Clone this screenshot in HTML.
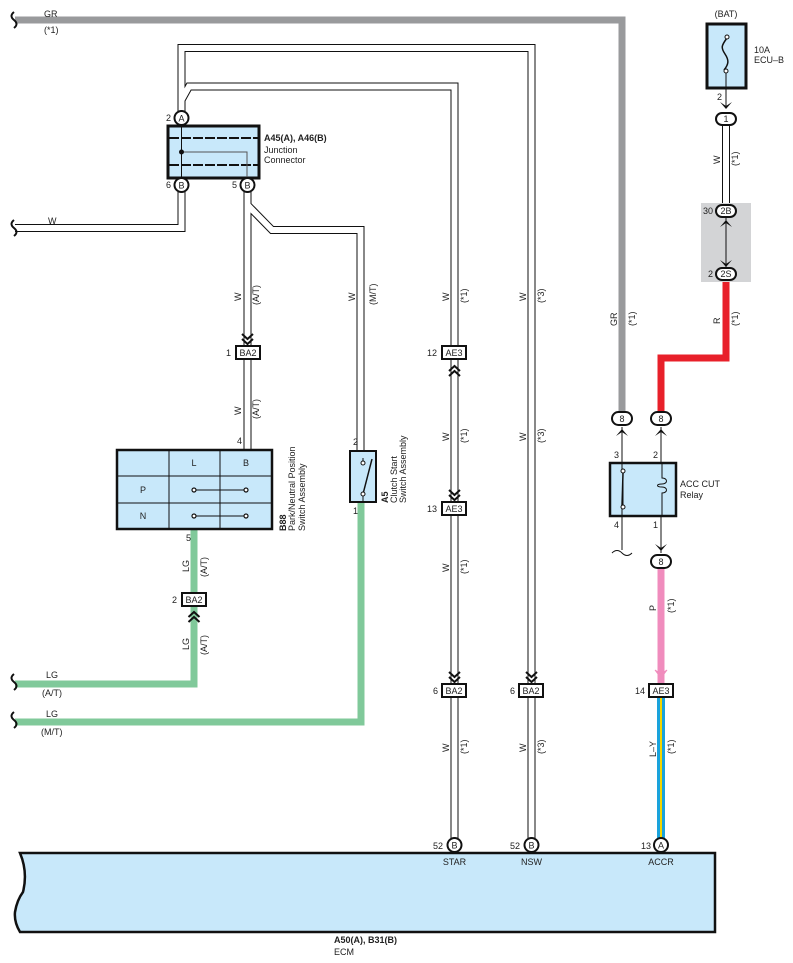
<!DOCTYPE html>
<html><head><meta charset="utf-8"><style>
html,body{margin:0;padding:0;background:#fff}
svg{display:block}
text{font-family:"Liberation Sans",sans-serif;font-size:9px;fill:#222}
.b{font-weight:bold}
.wo{fill:none;stroke:#111;stroke-width:8}
.wi{fill:none;stroke:#fff;stroke-width:6}
.ch{fill:none;stroke:#111;stroke-width:2}
</style></head><body>
<svg width="793" height="963" viewBox="0 0 793 963" xmlns="http://www.w3.org/2000/svg">
<!-- gray GR wire -->
<path d="M15,20 H622 V412" fill="none" stroke="#999a9c" stroke-width="7"/>
<path d="M14,12 q-5,4 0,8 q5,4 0,8" fill="none" stroke="#111" stroke-width="2"/>
<text x="44" y="17">GR</text><text x="44" y="33">(*1)</text>

<!-- white wires -->
<g>
<path class="wo" d="M181.5,112 V48 H531.5 V684"/>
<path class="wo" d="M181.5,100 L189,86.5 H454.5 V346"/>
<path class="wo" d="M454.5,360 V502"/>
<path class="wo" d="M454.5,516 V684"/>
<path class="wo" d="M454.5,697 V839"/>
<path class="wo" d="M531.5,697 V839"/>
<path class="wo" d="M181.5,191 V228 H15"/>
<path class="wo" d="M247.5,191 V347"/>
<path class="wo" d="M247.5,205 L272,230 H360.5 V450"/>
<path class="wo" d="M247.5,360 V450"/>
<path class="wo" d="M726,126 V204"/>
<path class="wi" d="M181.5,112 V48 H531.5 V684"/>
<path class="wi" d="M181.5,100 L189,86.5 H454.5 V346"/>
<path class="wi" d="M454.5,360 V502"/>
<path class="wi" d="M454.5,516 V684"/>
<path class="wi" d="M454.5,697 V839"/>
<path class="wi" d="M531.5,697 V839"/>
<path class="wi" d="M181.5,191 V228 H15"/>
<path class="wi" d="M247.5,191 V347"/>
<path class="wi" d="M247.5,205 L272,230 H360.5 V450"/>
<path class="wi" d="M247.5,360 V450"/>
<path class="wi" d="M726,126 V204"/>
</g>
<path d="M14,220 q-5,4 0,8 q5,4 0,8" fill="none" stroke="#111" stroke-width="2"/>
<text x="48" y="224">W</text>

<!-- green wires -->
<path d="M15,684 H194 V607" fill="none" stroke="#80c99a" stroke-width="7"/>
<path d="M194,593 V530" fill="none" stroke="#80c99a" stroke-width="7"/>
<path d="M15,722 H361 V502" fill="none" stroke="#80c99a" stroke-width="7"/>
<path d="M14,674 q-5,4 0,8 q5,4 0,8 M14,712 q-5,4 0,8 q5,4 0,8" fill="none" stroke="#111" stroke-width="2"/>
<text x="46" y="678">LG</text><text x="42" y="696">(A/T)</text>
<text x="46" y="717">LG</text><text x="41" y="735">(M/T)</text>

<!-- red wire -->
<path d="M726,282 V358 H661 V412" fill="none" stroke="#e8202a" stroke-width="7"/>
<!-- pink -->
<path d="M661,568 V683" fill="none" stroke="#f08cbd" stroke-width="7"/>
<!-- L-Y -->
<path d="M661,698 V839" fill="none" stroke="#1aa3dc" stroke-width="8"/>
<path d="M661,698 V839" fill="none" stroke="#f5d500" stroke-width="2"/>

<!-- junction connector -->
<rect x="168" y="126" width="91" height="52" fill="#c8e8fa" stroke="#111" stroke-width="3"/>
<path d="M169,138 H258 M169,165 H258" stroke="#111" stroke-width="2" stroke-dasharray="10,2"/>
<path d="M181.5,120 V178" stroke="#111" stroke-width="1"/>
<path d="M181.5,152 H247 V178" fill="none" stroke="#555" stroke-width="1"/>
<circle cx="181.5" cy="152" r="2.5" fill="#111"/>
<g fill="#fff" stroke="#111" stroke-width="2">
<circle cx="181.5" cy="118" r="7"/><circle cx="181.5" cy="185" r="7"/><circle cx="247.5" cy="185" r="7"/>
</g>
<text x="181.5" y="121.5" text-anchor="middle">A</text><text x="181.5" y="188.5" text-anchor="middle">B</text><text x="247.5" y="188.5" text-anchor="middle">B</text>
<text x="166" y="121">2</text><text x="166" y="188">6</text><text x="232" y="188">5</text>
<text x="264" y="141" class="b">A45(A), A46(B)</text><text x="264" y="153">Junction</text><text x="264" y="163">Connector</text>

<!-- connector boxes -->
<g fill="#fff" stroke="#111" stroke-width="2">
<rect x="236" y="346" width="24" height="13"/>
<rect x="442" y="346" width="24" height="13"/>
<rect x="442" y="502" width="24" height="13"/>
<rect x="442" y="684" width="24" height="13"/>
<rect x="519" y="684" width="24" height="13"/>
<rect x="182" y="593" width="24" height="13"/>
<rect x="649" y="684" width="24" height="13"/>
</g>
<g text-anchor="middle">
<text x="248" y="356">BA2</text><text x="454" y="356">AE3</text><text x="454" y="512">AE3</text>
<text x="454" y="694">BA2</text><text x="531" y="694">BA2</text><text x="194" y="603">BA2</text><text x="661" y="694">AE3</text>
</g>
<text x="226" y="356">1</text><text x="427" y="356">12</text><text x="427" y="512">13</text>
<text x="433" y="694">6</text><text x="510" y="694">6</text><text x="172" y="603">2</text><text x="635" y="694">14</text>

<!-- chevrons -->
<g class="ch">
<path d="M242,334 l5.5,5 l5.5,-5 M242,339 l5.5,5 l5.5,-5"/>
<path d="M449,371 l5.5,-5 l5.5,5 M449,376 l5.5,-5 l5.5,5"/>
<path d="M449,490 l5.5,5 l5.5,-5 M449,495 l5.5,5 l5.5,-5"/>
<path d="M449,672 l5.5,5 l5.5,-5 M449,677 l5.5,5 l5.5,-5"/>
<path d="M526,672 l5.5,5 l5.5,-5 M526,677 l5.5,5 l5.5,-5"/>
<path d="M188.5,617 l5.5,-5 l5.5,5 M188.5,622 l5.5,-5 l5.5,5"/>
</g>
<path d="M655,670 l6,8 l6,-8 l-6,4z" fill="#f08cbd" stroke="#f08cbd"/>

<!-- B88 -->
<rect x="117" y="450" width="155" height="79" fill="#c8e8fa" stroke="#111" stroke-width="2.5"/>
<path d="M169,450 V529 M220,450 V529 M117,476 H272 M117,503 H272" stroke="#111" stroke-width="1"/>
<text x="194" y="466" text-anchor="middle">L</text><text x="246" y="466" text-anchor="middle">B</text>
<text x="143" y="493" text-anchor="middle">P</text><text x="143" y="519" text-anchor="middle">N</text>
<path d="M194,490 H246 M194,516 H246" stroke="#111"/>
<g fill="#fff" stroke="#111" stroke-width="1.2">
<circle cx="194" cy="490" r="2"/><circle cx="246" cy="490" r="2"/><circle cx="194" cy="516" r="2"/><circle cx="246" cy="516" r="2"/>
</g>
<text x="237" y="444">4</text><text x="186" y="541">5</text>
<g transform="translate(286,531) rotate(-90)"><text class="b">B88</text></g>
<g transform="translate(295,531) rotate(-90)"><text>Park/Neutral Position</text></g>
<g transform="translate(305,531) rotate(-90)"><text>Switch Assembly</text></g>

<!-- A5 -->
<rect x="350" y="451" width="26" height="51" fill="#c8e8fa" stroke="#111" stroke-width="2"/>
<path d="M363,463 V458 M363,493 V502" stroke="#111"/>
<path d="M363,494 L372,459" stroke="#111" stroke-width="1.5"/>
<circle cx="363" cy="463" r="2" fill="#fff" stroke="#111"/><circle cx="363" cy="494" r="2" fill="#fff" stroke="#111"/>
<text x="353" y="445">2</text><text x="353" y="514">1</text>
<g transform="translate(388,503) rotate(-90)"><text class="b">A5</text></g>
<g transform="translate(397,503) rotate(-90)"><text>Clutch Start</text></g>
<g transform="translate(406,503) rotate(-90)"><text>Switch Assembly</text></g>

<!-- fuse -->
<text x="726" y="17" text-anchor="middle">(BAT)</text>
<rect x="707" y="24" width="39" height="64" fill="#c8e8fa" stroke="#111" stroke-width="3"/>
<path d="M727,38 c-6,8 -6,10 -2,16 c4,6 4,10 -1,16" fill="none" stroke="#111" stroke-width="1.5"/>
<circle cx="727" cy="37" r="2" fill="#fff" stroke="#111"/><circle cx="726" cy="71" r="2" fill="#fff" stroke="#111"/>
<path d="M726,73 V106" stroke="#111"/>
<path d="M720,102 l6,7 l6,-7 l-6,4z" fill="#111"/>
<text x="754" y="53">10A</text><text x="754" y="63">ECU–B</text>
<text x="717" y="100">2</text>
<rect x="716" y="113" width="20" height="12" rx="6" fill="#fff" stroke="#111" stroke-width="2"/>
<text x="726" y="122" text-anchor="middle">1</text>
<rect x="701" y="203" width="50" height="79" fill="#d3d4d6"/>
<path d="M726,218 V268" stroke="#111"/>
<path d="M720,227 l6,-7 l6,7 l-6,-4z M720,260 l6,7 l6,-7 l-6,4z" fill="#111"/>
<rect x="716" y="205" width="20" height="12" rx="6" fill="#fff" stroke="#111" stroke-width="2"/>
<rect x="716" y="268" width="20" height="12" rx="6" fill="#fff" stroke="#111" stroke-width="2"/>
<text x="726" y="214" text-anchor="middle">2B</text><text x="726" y="277" text-anchor="middle">2S</text>
<text x="703" y="214">30</text><text x="708" y="277">2</text>

<!-- relay -->
<g fill="#fff" stroke="#111" stroke-width="2">
<rect x="612" y="412" width="20" height="13" rx="6.5"/><rect x="651" y="412" width="20" height="13" rx="6.5"/><rect x="651" y="555" width="20" height="13" rx="6.5"/>
</g>
<text x="622" y="422" text-anchor="middle">8</text><text x="661" y="422" text-anchor="middle">8</text><text x="661" y="565" text-anchor="middle">8</text>
<path d="M622,427 V550 M661,427 V462 M661,516 V553" stroke="#111" stroke-width="1"/>
<path d="M616,436 l6,-7 l6,7 l-6,-4z M655,436 l6,-7 l6,7 l-6,-4z M655,544 l6,7 l6,-7 l-6,4z" fill="#111"/>
<path d="M612,553 q5,-5 10,0 q5,5 10,0" fill="none" stroke="#111"/>
<rect x="610" y="463" width="66" height="53" fill="#c8e8fa" stroke="#111" stroke-width="2.5"/>
<path d="M622,462 V471 M622,505 V516 M623,472 L623,507" stroke="#111"/>
<path d="M623,473 L622,506" stroke="#111" stroke-width="1.5"/>
<circle cx="623" cy="471" r="2" fill="#fff" stroke="#111"/><circle cx="623" cy="507" r="2" fill="#fff" stroke="#111"/>
<path d="M662,463 V478 c6,0 6,6 0,6 c-6,0 -6,3 0,3 c6,0 6,6 0,6 V516" fill="none" stroke="#111"/>
<text x="614" y="458">3</text><text x="653" y="458">2</text><text x="614" y="528">4</text><text x="653" y="528">1</text>
<text x="680" y="487">ACC CUT</text><text x="680" y="498">Relay</text>

<!-- ECM -->
<path d="M20,853 H715 V932 H20 q-6,-10 -5,-20 q2,-12 8,-20 q5,-20 -3,-39z" fill="#c8e8fa" stroke="#111" stroke-width="2.5"/>
<g fill="#fff" stroke="#111" stroke-width="2">
<circle cx="454.5" cy="845" r="7"/><circle cx="531.5" cy="845" r="7"/><circle cx="661" cy="845" r="7"/>
</g>
<text x="454.5" y="848.5" text-anchor="middle">B</text><text x="531.5" y="848.5" text-anchor="middle">B</text><text x="661" y="848.5" text-anchor="middle">A</text>
<text x="433" y="849">52</text><text x="510" y="849">52</text><text x="641" y="849">13</text>
<text x="454.5" y="865" text-anchor="middle">STAR</text><text x="531.5" y="865" text-anchor="middle">NSW</text><text x="661" y="865" text-anchor="middle">ACCR</text>
<text x="334" y="943" class="b">A50(A), B31(B)</text><text x="334" y="955">ECM</text>

<!-- vertical wire labels -->
<g>
<g transform="translate(241,301) rotate(-90)"><text>W</text></g><g transform="translate(259,305) rotate(-90)"><text>(A/T)</text></g>
<g transform="translate(241,415) rotate(-90)"><text>W</text></g><g transform="translate(259,419) rotate(-90)"><text>(A/T)</text></g>
<g transform="translate(355,301) rotate(-90)"><text>W</text></g><g transform="translate(376,305) rotate(-90)"><text>(M/T)</text></g>
<g transform="translate(449,301) rotate(-90)"><text>W</text></g><g transform="translate(467,303) rotate(-90)"><text>(*1)</text></g>
<g transform="translate(449,441) rotate(-90)"><text>W</text></g><g transform="translate(467,443) rotate(-90)"><text>(*1)</text></g>
<g transform="translate(449,572) rotate(-90)"><text>W</text></g><g transform="translate(467,574) rotate(-90)"><text>(*1)</text></g>
<g transform="translate(449,752) rotate(-90)"><text>W</text></g><g transform="translate(467,754) rotate(-90)"><text>(*1)</text></g>
<g transform="translate(526,301) rotate(-90)"><text>W</text></g><g transform="translate(544,303) rotate(-90)"><text>(*3)</text></g>
<g transform="translate(526,441) rotate(-90)"><text>W</text></g><g transform="translate(544,443) rotate(-90)"><text>(*3)</text></g>
<g transform="translate(526,752) rotate(-90)"><text>W</text></g><g transform="translate(544,754) rotate(-90)"><text>(*3)</text></g>
<g transform="translate(189,572) rotate(-90)"><text>LG</text></g><g transform="translate(207,577) rotate(-90)"><text>(A/T)</text></g>
<g transform="translate(189,650) rotate(-90)"><text>LG</text></g><g transform="translate(207,655) rotate(-90)"><text>(A/T)</text></g>
<g transform="translate(617,326) rotate(-90)"><text>GR</text></g><g transform="translate(635,326) rotate(-90)"><text>(*1)</text></g>
<g transform="translate(720,164) rotate(-90)"><text>W</text></g><g transform="translate(738,166) rotate(-90)"><text>(*1)</text></g>
<g transform="translate(720,324) rotate(-90)"><text>R</text></g><g transform="translate(738,326) rotate(-90)"><text>(*1)</text></g>
<g transform="translate(656,611) rotate(-90)"><text>P</text></g><g transform="translate(674,613) rotate(-90)"><text>(*1)</text></g>
<g transform="translate(656,757) rotate(-90)"><text>L–Y</text></g><g transform="translate(674,754) rotate(-90)"><text>(*1)</text></g>
</g>
</svg>
</body></html>
